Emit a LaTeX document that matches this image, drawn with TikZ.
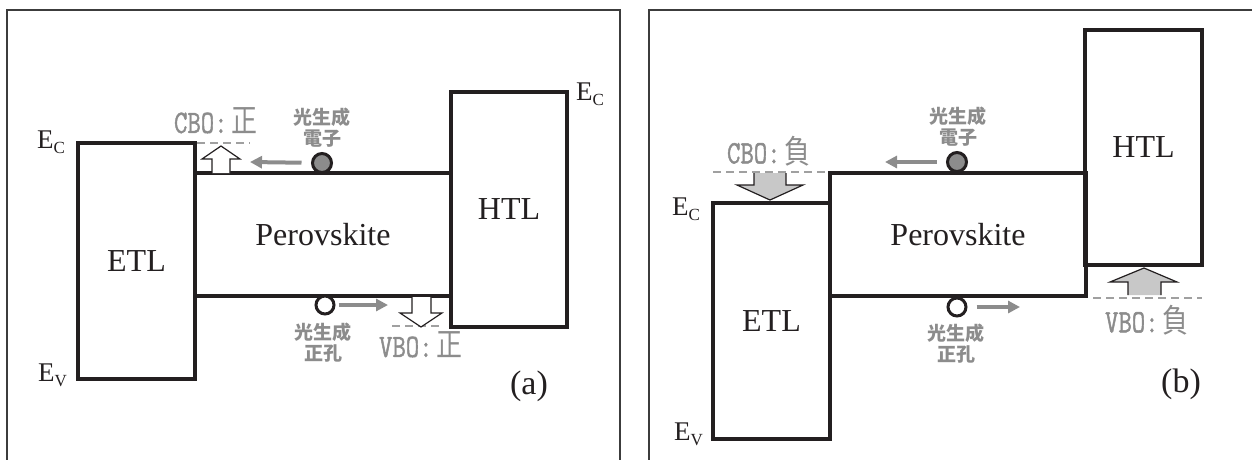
\documentclass[tikz,border=0pt]{standalone}
\usepackage{fontspec}
\setmainfont{Liberation Serif}
\newfontfamily\cjk{Noto Sans CJK JP}
\newfontfamily\monof{Latin Modern Mono}[FakeBold=1.6]
\usetikzlibrary{arrows.meta}
\definecolor{lineblk}{RGB}{35,31,32}
\definecolor{labgray}{RGB}{140,140,140}
\definecolor{dashgray}{RGB}{160,160,160}
\definecolor{fillgray}{RGB}{200,200,200}
\definecolor{framegray}{RGB}{60,60,60}
\newcommand\Elab[1]{E\raisebox{-5pt}{\fontsize{17}{17}\selectfont #1}}
\newcommand\offtxt[2]{\scalebox{1}[1.25]{{\monof #1:}\,{\cjk #2}}}
\begin{document}
\begin{tikzpicture}[x=1pt,y=-1pt,
  band/.style={draw=lineblk, line width=4pt, inner sep=0pt, outer sep=0pt,
    font=\fontsize{32}{38}\selectfont, text=lineblk},
  frm/.style={draw=framegray, line width=1.5pt},
  elab/.style={anchor=base west, inner sep=0pt, font=\fontsize{27}{27}\selectfont, text=lineblk},
  elec/.style={circle, draw=lineblk, line width=3pt, fill=labgray, minimum size=19pt, inner sep=0pt},
  hole/.style={circle, draw=lineblk, line width=3pt, fill=white, minimum size=18pt, inner sep=0pt},
  carrier/.style={draw=labgray, line width=4pt, -{Triangle[length=12pt,width=12pt]}},
  offdash/.style={draw=dashgray, line width=2.5pt, dash pattern=on 8pt off 5pt},
  blockarr/.style={draw=lineblk, line width=1.2pt, line join=miter},
  offlab/.style={text=labgray, inner sep=0pt, font=\fontsize{26}{26}\selectfont},
  jplab/.style={text=labgray, inner sep=0pt, align=center, font=\cjk\bfseries\fontsize{19}{21}\selectfont},
  panlab/.style={inner sep=0pt, font=\fontsize{34}{40}\selectfont, text=lineblk}]
\useasboundingbox (0,0) rectangle (1252,459);
% frames
\draw[frm] (7,470) |- (620,10) -- (620,470);
\draw[frm] (649,470) |- (1270,10);

% ---------- panel (a) ----------
\node[band, minimum width=117pt, minimum height=236pt] (etlA) at (136.5,261) {ETL};
\node[band, minimum width=256pt, minimum height=123pt] (pvkA) at (323,234.5) {Perovskite};
\node[band, minimum width=116pt, minimum height=235pt] (htlA) at (509,209.5) {HTL};
\node[elab] (ecA1) at (37,148) {\Elab{C}};
\node[elab] (evA1) at (38,381) {\Elab{V}};
\node[elab] (ecA2) at (576,100) {\Elab{C}};

\coordinate (cdA1) at (197,143);
\coordinate (cdA2) at (250,143);
\draw[offdash] (cdA1) -- (cdA2);
\path[blockarr, fill=white] (212,173) -- (212,159) -- (202,159) -- (221,146) -- (240,159) -- (230,159) -- (230,173);
\node[offlab] (cboA) at (216,121) {\offtxt{CBO}{正}};

\coordinate (vdA1) at (392,326);
\coordinate (vdA2) at (443,326);
\draw[offdash] (vdA1) -- (vdA2);
\path[blockarr, fill=white] (412,297) -- (412,313) -- (400,313) -- (421,327) -- (442,313) -- (431,313) -- (431,297);
\node[offlab] (vboA) at (421,345) {\offtxt{VBO}{正}};

\node[elec] (eA) at (322,163) {};
\coordinate (eAend) at (250,162);
\draw[carrier, shorten <=9.5pt] (eA) -- (eAend);
\node[jplab] (eAlab) at (322,128) {光生成\\電子};

\node[hole] (hA) at (325,305) {};
\coordinate (hAend) at (388,305);
\draw[carrier, shorten <=3pt] (hA) -- (hAend);
\node[jplab] (hAlab) at (323,343) {光生成\\正孔};

\node[panlab] (labA) at (529,386) {(a)};

% ---------- panel (b) ----------
\node[band, minimum width=117pt, minimum height=236pt] (etlB) at (771.5,321) {ETL};
\node[band, minimum width=256pt, minimum height=123pt] (pvkB) at (958,234.5) {Perovskite};
\node[band, minimum width=117pt, minimum height=235pt] (htlB) at (1143.5,147.5) {HTL};
\node[elab] (ecB) at (672,215) {\Elab{C}};
\node[elab] (evB) at (674,440) {\Elab{V}};

\coordinate (cdB1) at (713,172);
\coordinate (cdB2) at (828,172);
\draw[offdash] (cdB1) -- (cdB2);
\path[blockarr, fill=fillgray] (754,173) -- (754,185) -- (737,185) -- (770,200) -- (803,185) -- (786,185) -- (786,173);
\node[offlab] (cboB) at (769,151) {\offtxt{CBO}{負}};

\coordinate (vdB1) at (1093,298);
\coordinate (vdB2) at (1202,298);
\draw[offdash] (vdB1) -- (vdB2);
\path[blockarr, fill=fillgray] (1128,295) -- (1128,282) -- (1110,282) -- (1144,268) -- (1177,282) -- (1161,282) -- (1161,295);
\node[offlab] (vboB) at (1147,320) {\offtxt{VBO}{負}};

\node[elec] (eB) at (957,162) {};
\coordinate (eBend) at (885,162);
\draw[carrier, shorten <=9.5pt] (eB) -- (eBend);
\node[jplab] (eBlab) at (958,127) {光生成\\電子};

\node[hole] (hB) at (957,307) {};
\coordinate (hBend) at (1020,307);
\draw[carrier, shorten <=9pt] (hB) -- (hBend);
\node[jplab] (hBlab) at (956,344) {光生成\\正孔};

\node[panlab] (labB) at (1181,384) {(b)};
\end{tikzpicture}
\end{document}
